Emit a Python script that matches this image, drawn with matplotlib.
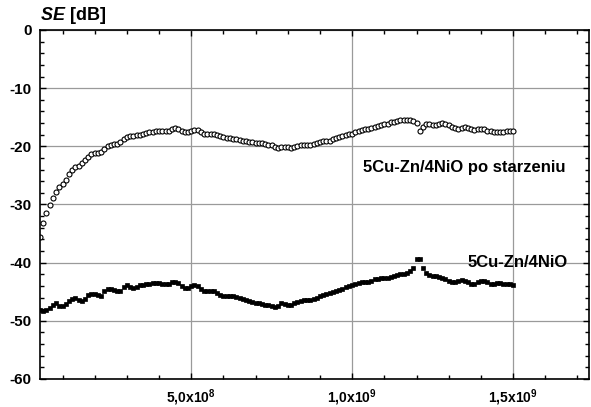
"""SE [dB] vs frequency for 5Cu-Zn/4NiO, before and after ageing."""

import matplotlib

matplotlib.use("Agg")
import matplotlib.pyplot as plt  # noqa: E402
import numpy as np  # noqa: E402
from matplotlib.ticker import MultipleLocator  # noqa: E402

plt.rcParams["font.family"] = ["Liberation Sans", "DejaVu Sans"]
plt.rcParams["font.weight"] = "bold"
plt.rcParams["axes.unicode_minus"] = False
plt.rcParams["mathtext.fontset"] = "custom"
plt.rcParams["mathtext.rm"] = "Liberation Sans:bold"
plt.rcParams["mathtext.it"] = "Liberation Sans:bold:italic"
plt.rcParams["mathtext.default"] = "rm"

# frequency sweep, 10 MHz step from 30 MHz to 1.5 GHz
freq = np.arange(3, 151) * 1e7

se_aged = [
    -35.6, -33.2, -31.5, -30.1, -28.8, -27.9, -27.0, -26.4, -25.8, -24.7,
    -24.0, -23.5, -23.3, -22.9, -22.4, -21.8, -21.3, -21.2, -21.2, -20.9,
    -20.4, -19.9, -19.7, -19.6, -19.6, -19.2, -18.7, -18.4, -18.3, -18.2,
    -18.1, -18.0, -17.8, -17.7, -17.6, -17.5, -17.4, -17.4, -17.4, -17.4,
    -17.3, -17.0, -16.9, -17.0, -17.3, -17.6, -17.6, -17.4, -17.2, -17.2,
    -17.5, -17.8, -17.9, -17.8, -17.8, -18.0, -18.3, -18.4, -18.5, -18.6,
    -18.7, -18.8, -18.9, -19.0, -19.1, -19.2, -19.3, -19.4, -19.5, -19.5,
    -19.6, -19.7, -19.8, -20.1, -20.3, -20.2, -20.1, -20.2, -20.3, -20.2,
    -19.9, -19.7, -19.7, -19.8, -19.8, -19.6, -19.4, -19.2, -19.1, -19.1,
    -19.0, -18.8, -18.6, -18.4, -18.3, -18.1, -17.9, -17.8, -17.6, -17.3,
    -17.2, -17.1, -17.0, -16.9, -16.7, -16.5, -16.3, -16.2, -16.1, -15.9,
    -15.8, -15.6, -15.5, -15.5, -15.5, -15.5, -15.6, -16.0, -17.4, -16.6,
    -16.2, -16.2, -16.4, -16.4, -16.2, -16.0, -16.1, -16.4, -16.6, -16.8,
    -17.0, -16.9, -16.6, -16.8, -17.1, -17.2, -17.1, -17.0, -17.1, -17.3,
    -17.4, -17.5, -17.5, -17.5, -17.5, -17.4, -17.4, -17.4,
]

se_fresh = [
    -48.2, -48.3, -48.2, -47.8, -47.3, -47.0, -47.4, -47.5, -47.1, -46.6,
    -46.3, -46.0, -46.5, -46.6, -46.2, -45.6, -45.4, -45.4, -45.6, -45.7,
    -44.9, -44.6, -44.6, -44.7, -44.9, -44.8, -44.1, -43.8, -44.1, -44.4,
    -44.2, -43.9, -43.8, -43.7, -43.6, -43.5, -43.5, -43.5, -43.6, -43.7,
    -43.6, -43.4, -43.3, -43.5, -44.0, -44.4, -44.3, -44.0, -43.8, -44.0,
    -44.5, -44.8, -44.8, -44.8, -44.9, -45.3, -45.6, -45.7, -45.7, -45.7,
    -45.8, -45.9, -46.0, -46.2, -46.4, -46.6, -46.8, -46.9, -47.0, -47.1,
    -47.2, -47.3, -47.5, -47.7, -47.5, -47.0, -47.1, -47.3, -47.2, -46.9,
    -46.7, -46.6, -46.5, -46.5, -46.4, -46.2, -46.0, -45.8, -45.6, -45.4,
    -45.2, -45.0, -44.9, -44.7, -44.5, -44.2, -44.0, -43.8, -43.6, -43.5,
    -43.4, -43.4, -43.4, -43.1, -42.8, -42.8, -42.7, -42.7, -42.6, -42.4,
    -42.3, -42.2, -42.0, -41.9, -41.7, -41.5, -41.0, -39.3, -39.3, -41.0,
    -41.8, -42.2, -42.3, -42.3, -42.4, -42.6, -42.8, -43.2, -43.4, -43.3,
    -43.1, -42.9, -43.1, -43.4, -43.6, -43.6, -43.4, -43.2, -43.1, -43.3,
    -43.6, -43.6, -43.5, -43.5, -43.6, -43.6, -43.7, -43.8,
]

label_aged = "5Cu-Zn/4NiO po starzeniu"
label_fresh = "5Cu-Zn/4NiO"

x_ticks = [5e8, 1e9, 1.5e9]
x_ticklabels = [r"5,0x10$^{8}$", r"1,0x10$^{9}$", r"1,5x10$^{9}$"]

fig = plt.figure(figsize=(5.91, 4.07), dpi=100)
ax = fig.add_axes([0.0677, 0.0688, 0.9289, 0.8575])

ax.plot(freq, se_aged, linestyle="none", marker="o", ms=3.6,
        mfc="white", mec="black", mew=0.8)
ax.plot(freq, se_fresh, linestyle="none", marker="s", ms=3.4,
        mfc="black", mec="black", mew=0.5)

ax.set_xlim(3e7, 1.736e9)
ax.set_ylim(-60, 0)

ax.set_xticks(x_ticks)
ax.set_xticklabels(x_ticklabels)
ax.xaxis.set_minor_locator(MultipleLocator(1e8))
ax.yaxis.set_major_locator(MultipleLocator(10))
ax.yaxis.set_minor_locator(MultipleLocator(2))

ax.grid(True, which="major", color="#9a9a9a", linewidth=0.9)
ax.set_axisbelow(True)
ax.tick_params(which="both", direction="in", top=True, right=True,
               width=1.0, color="black")
ax.tick_params(axis="y", which="major", length=4, pad=6, labelsize=11)
ax.tick_params(axis="x", which="major", length=4, pad=6, labelsize=10)
ax.tick_params(which="minor", length=3)
for sp in ax.spines.values():
    sp.set_linewidth(1.2)

ax.text(1.033e9, -23.7, label_aged, fontsize=12, fontweight="bold",
        va="center", ha="left")
ax.text(1.359e9, -40.0, label_fresh, fontsize=12, fontweight="bold",
        va="center", ha="left")

fig.text(40 / 591, 1 - 15 / 407, r"$\mathit{SE}$ [dB]", fontsize=13,
         fontweight="bold", va="center", ha="left")

fig.savefig("out.png", dpi=100)
